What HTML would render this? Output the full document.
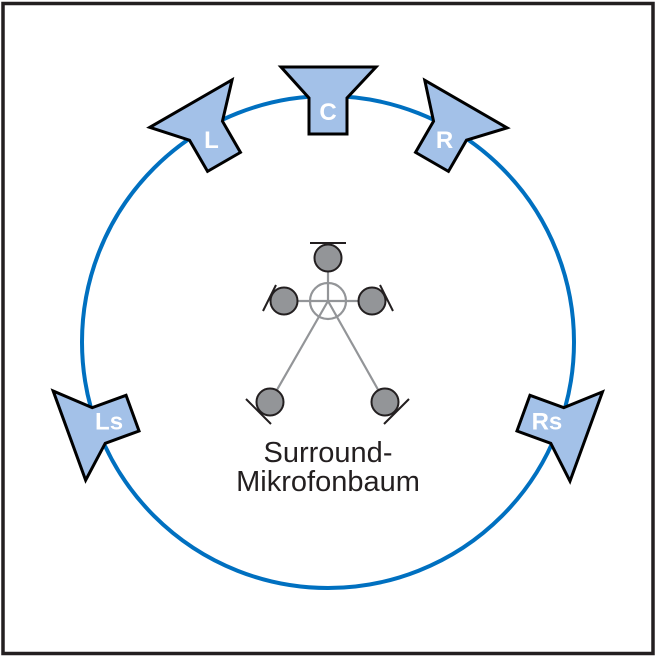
<!DOCTYPE html>
<html><head><meta charset="utf-8"><style>
html,body{margin:0;padding:0;background:#fff}
svg{display:block}
</style></head><body>
<svg width="657" height="657" viewBox="0 0 657 657" xmlns="http://www.w3.org/2000/svg">
<rect x="3" y="3.5" width="650" height="650" fill="#fff" stroke="#231f20" stroke-width="3.5"/>
<circle cx="328" cy="342" r="246" fill="none" stroke="#0070c0" stroke-width="4"/>
<defs>
<g id="spk">
<polygon points="281,67 376,67 347,98 347,134 309,134 309,98" fill="#a3c1e8" stroke="#000" stroke-width="3" stroke-linejoin="miter"/>
</g>
</defs>
<g font-family="Liberation Sans, sans-serif" font-weight="bold" font-size="24" fill="#fff" text-anchor="middle">
<use href="#spk"/>
<text x="328" y="120">C</text>
<g transform="rotate(-30 328 342)"><use href="#spk"/><text x="328" y="117" transform="rotate(30 328 109)">L</text></g>
<g transform="rotate(30 328 342)"><use href="#spk"/><text x="328" y="117" transform="rotate(-30 328 109)">R</text></g>
<g transform="rotate(-110 328 342)"><use href="#spk"/><text x="328" y="117" transform="rotate(110 328 109)">Ls</text></g>
<g transform="rotate(110 328 342)"><use href="#spk"/><text x="328" y="117" transform="rotate(-110 328 109)">Rs</text></g>
</g>
<g stroke="#939598" stroke-width="2.2" fill="none">
<circle cx="328" cy="301" r="18"/>
<line x1="328" y1="301" x2="328" y2="272"/>
<line x1="297" y1="301" x2="358" y2="301"/>
<line x1="328" y1="301" x2="270" y2="402"/>
<line x1="328" y1="301" x2="385" y2="402"/>
</g>
<g fill="#939598" stroke="#231f20" stroke-width="2">
<circle cx="328" cy="258" r="13.5"/>
<circle cx="284" cy="301" r="13.5"/>
<circle cx="372" cy="301" r="13.5"/>
<circle cx="270" cy="402" r="13.5"/>
<circle cx="385" cy="402" r="13.5"/>
</g>
<g stroke="#231f20" stroke-width="2">
<line x1="310" y1="243" x2="346" y2="243"/>
<line x1="276" y1="285" x2="263" y2="311"/>
<line x1="380" y1="285" x2="393" y2="311"/>
<line x1="246" y1="399" x2="271" y2="424"/>
<line x1="409" y1="399" x2="384" y2="424"/>
</g>
<g font-family="Liberation Sans, sans-serif" font-size="29" fill="#231f20" text-anchor="middle">
<text x="328" y="462">Surround-</text>
<text x="328" y="491">Mikrofonbaum</text>
</g>
</svg>
</body></html>
